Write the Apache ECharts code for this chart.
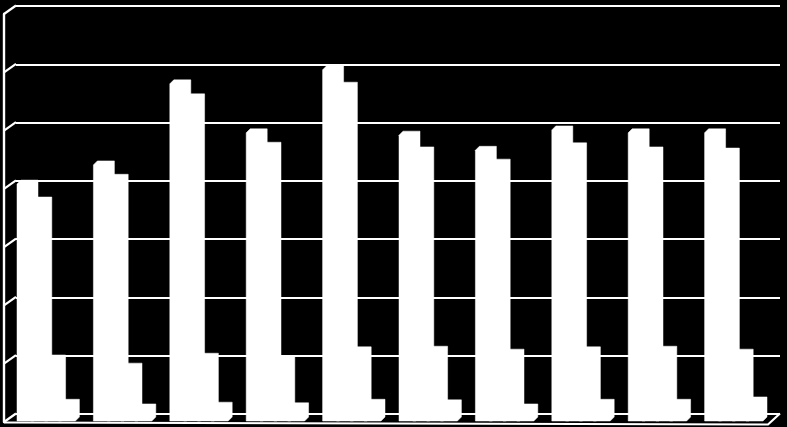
<!DOCTYPE html>
<html><head><meta charset="utf-8">
<style>html,body{margin:0;padding:0;background:#000}#c{width:787px;height:427px}</style>
<script src="https://cdn.jsdelivr.net/npm/echarts@6/dist/echarts.min.js"></script></head>
<body><div id="c"></div>
<script>
const categories = ['1','2','3','4','5','6','7','8','9','10'];
const seriesA = [4.15,4.48,5.87,5.03,6.11,4.99,4.73,5.08,5.03,5.03];
const seriesB = [3.86,4.25,5.63,4.80,5.83,4.72,4.51,4.79,4.72,4.70];
const seriesC = [1.15,1.01,1.18,1.13,1.29,1.30,1.25,1.29,1.30,1.25];
const seriesD = [0.39,0.31,0.34,0.33,0.39,0.38,0.31,0.39,0.39,0.43];
const gridTicks = [0,1,2,3,4,5,6,7];

const depthX = 12, depthY = 8.5;
const bandPad = 13, step = 13.8, barW = 21, cx = 4, cy = 4;

function barSeries(name, values, idx) {
  return {
    name, type: 'custom', coordinateSystem: 'cartesian2d', xAxisIndex: 1, yAxisIndex: 1, z: 5 + idx,
    data: values.map((v, i) => [i, v]),
    encode: { x: 0, y: 1 },
    renderItem(params, api) {
      const band = api.size([1, 0])[0];
      const top = api.coord([api.value(0), api.value(1)]);
      const bottom = api.coord([api.value(0), 0])[1] - 1;
      const l = top[0] - band / 2 + bandPad + step * idx, r = l + barW, t = top[1];
      return { type: 'polygon',
        shape: { points: [[l, t + cy], [l + cx, t], [r, t], [r, bottom - cy], [r - cx, bottom], [l, bottom]] },
        style: { fill: '#fff', stroke: '#fff', lineWidth: 0.5 } };
    }
  };
}
const lineStyle = { stroke: '#fff', lineWidth: 2.2, fill: null };
const chart = echarts.init(document.getElementById('c'), null, { renderer: 'canvas' });
chart.setOption({
  animation: false,
  backgroundColor: '#000',
  grid: [
    { left: 16, right: 7, top: 6, bottom: 13 },
    { left: 4, right: 19, top: 14, bottom: 5 }
  ],
  xAxis: [
    { type: 'category', gridIndex: 0, data: categories, axisLine: { show: false }, axisTick: { show: false }, axisLabel: { show: false } },
    { type: 'category', gridIndex: 1, data: categories, axisLine: { show: false }, axisTick: { show: false }, axisLabel: { show: false } }
  ],
  yAxis: [
    { type: 'value', gridIndex: 0, min: 0, max: 7, interval: 1, axisLine: { show: false }, axisTick: { show: false }, axisLabel: { show: false },
      splitLine: { show: true, lineStyle: { color: '#fff', width: 2.2 } } },
    { type: 'value', gridIndex: 1, min: 0, max: 7, interval: 1, axisLine: { show: true, lineStyle: { color: '#fff', width: 2.4 } }, axisTick: { show: false }, axisLabel: { show: false }, splitLine: { show: false } }
  ],
  series: [
    { type: 'custom', coordinateSystem: 'cartesian2d', xAxisIndex: 1, yAxisIndex: 1, z: 2, silent: true,
      data: gridTicks.map(v => [0, v]), encode: { x: 0, y: 1 },
      renderItem(params, api) {
        const p = api.coord([0, api.value(1)]);
        const x = p[0] - api.size([1, 0])[0] / 2;
        return { type: 'line', shape: { x1: x, y1: p[1], x2: x + depthX, y2: p[1] - depthY }, style: lineStyle };
      } },
    { type: 'custom', coordinateSystem: 'cartesian2d', xAxisIndex: 1, yAxisIndex: 1, z: 2, silent: true,
      data: [[categories.length - 1, 0]], encode: { x: 0, y: 1 },
      renderItem(params, api) {
        const p = api.coord([api.value(0), 0]);
        const band = api.size([1, 0])[0];
        const x = p[0] + band / 2;
        const xStart = x - band * categories.length;
        return { type: 'polyline',
          shape: { points: [[xStart, p[1] + 0.5], [x, p[1] + 2.5], [x + depthX, p[1] - depthY]] },
          style: lineStyle };
      } },
    barSeries('A', seriesA, 0),
    barSeries('B', seriesB, 1),
    barSeries('C', seriesC, 2),
    barSeries('D', seriesD, 3)
  ]
});
</script></body></html>
